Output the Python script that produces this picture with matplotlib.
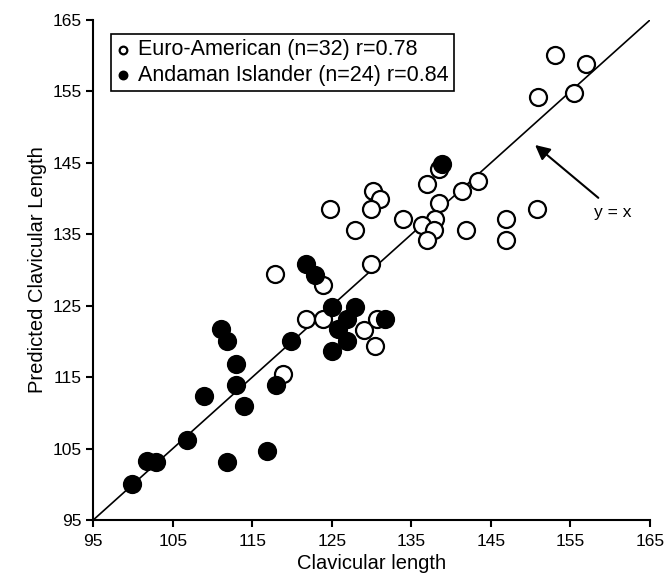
import matplotlib
matplotlib.use('Agg')
import matplotlib.pyplot as plt

plt.rcParams['font.family'] = ['Liberation Sans', 'DejaVu Sans']

# Euro-American (open circles)
euro_x = [153.1, 157.0, 150.9, 155.4, 138.5, 136.9, 143.4, 141.3, 138.5, 134.0,
          138.0, 136.3, 137.8, 141.9, 136.9, 146.9, 146.9, 150.8, 124.8, 130.2,
          131.0, 129.9, 127.9, 123.9, 117.9, 129.9, 121.8, 123.9, 129.0, 130.4,
          130.7, 118.9]
euro_y = [160.1, 158.8, 154.2, 154.8, 144.1, 142.0, 142.5, 141.0, 139.4, 137.1,
          137.2, 136.3, 135.6, 135.6, 134.2, 137.1, 134.2, 138.6, 138.5, 141.0,
          140.0, 138.5, 135.6, 127.9, 129.4, 130.9, 123.1, 123.1, 121.6, 119.3,
          123.1, 115.4]

# Andaman Islander (filled circles)
anda_x = [138.9, 121.8, 122.9, 125.0, 127.9, 126.9, 125.8, 126.9, 125.0, 131.7,
          119.9, 111.0, 111.8, 112.9, 112.9, 108.9, 113.9, 118.0, 106.8, 116.8,
          111.8, 101.8, 102.9, 99.9]
anda_y = [144.8, 130.9, 129.3, 124.8, 124.8, 123.2, 121.8, 120.1, 118.6, 123.1,
          120.0, 121.7, 120.0, 116.9, 113.9, 112.4, 110.9, 113.9, 106.2, 104.7,
          103.1, 103.2, 103.1, 100.0]

ticks = [95, 105, 115, 125, 135, 145, 155, 165]

fig = plt.figure(figsize=(6.66, 5.84), dpi=100)
ax = fig.add_axes([0.14, 0.1096, 0.836, 0.8562])

ax.plot([95, 165], [95, 165], color='black', lw=1.2, zorder=1)
ax.scatter(euro_x, euro_y, s=150, facecolor='white', edgecolor='black',
           linewidth=1.6, zorder=3, label='Euro-American (n=32) r=0.78')
ax.scatter(anda_x, anda_y, s=150, facecolor='black', edgecolor='black',
           linewidth=1.6, zorder=3, label='Andaman Islander (n=24) r=0.84')

# y = x pointer
ax.annotate('', xy=(150.55, 147.5), xytext=(158.5, 140.1),
            arrowprops=dict(arrowstyle='-|>', color='black', lw=1.5,
                            mutation_scale=22, shrinkA=0, shrinkB=0))
ax.text(160.3, 138.0, 'y = x', fontsize=12.5, ha='center', va='center')

ax.set_xlim(95, 165)
ax.set_ylim(95, 165)
ax.set_xticks(ticks)
ax.set_yticks(ticks)
ax.tick_params(direction='out', length=5, width=1.5, labelsize=12.5)
ax.tick_params(axis='x', pad=5)
for side in ['top', 'right']:
    ax.spines[side].set_visible(False)
for side in ['left', 'bottom']:
    ax.spines[side].set_linewidth(1.5)

ax.set_xlabel('Clavicular length', fontsize=14.5, labelpad=4)
ax.set_ylabel('Predicted Clavicular Length', fontsize=14.5, labelpad=4)

leg = ax.legend(loc='upper left', bbox_to_anchor=(0.031, 0.972), fontsize=15.5,
                markerscale=0.45, handletextpad=0.35, borderpad=0.25,
                labelspacing=0.2, fancybox=False, framealpha=1,
                handlelength=0.7, borderaxespad=0)
leg.get_frame().set_edgecolor('black')
leg.get_frame().set_linewidth(1.2)

fig.savefig('out.png', dpi=100)
